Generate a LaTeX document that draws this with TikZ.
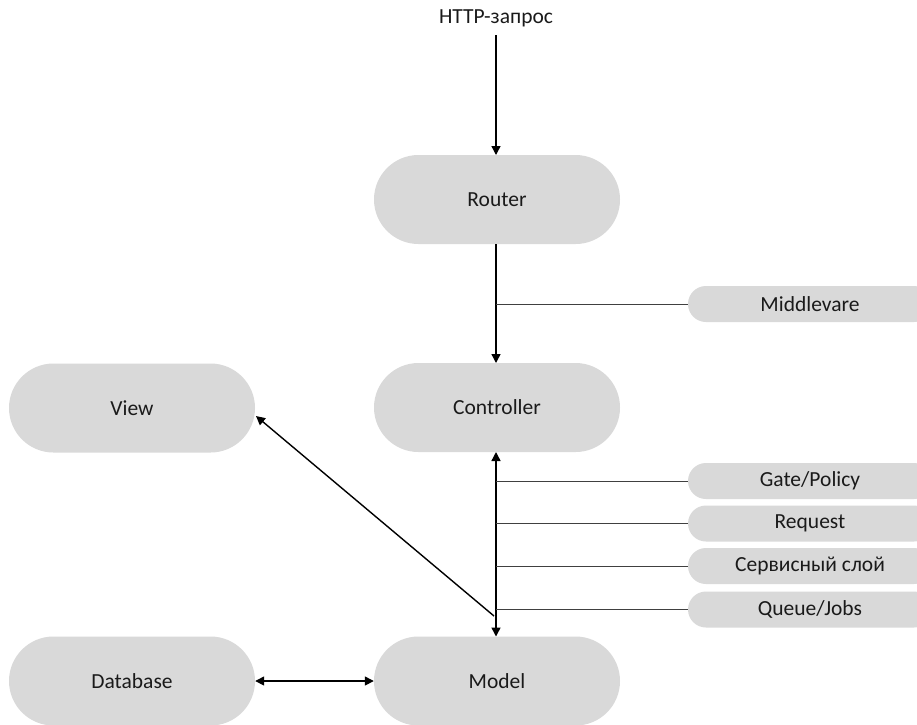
\documentclass[tikz,border=0pt]{standalone}
\usepackage{fontspec}
\setmainfont{Carlito}
\usetikzlibrary{arrows.meta}
\definecolor{pillgray}{HTML}{D9D9D9}
\definecolor{linegray}{HTML}{404040}
\definecolor{txt}{HTML}{1A1A1A}
\begin{document}
\begin{tikzpicture}[x=1pt,y=-1pt,
  pill/.style={fill=pillgray, rounded corners=44.5pt, minimum width=246pt, minimum height=89pt, inner sep=0pt, text=txt, font=\fontsize{21.5}{26}\selectfont},
  tag/.style={fill=pillgray, rounded corners=18pt, minimum width=244pt, minimum height=36pt, inner sep=0pt, text=txt, font=\fontsize{21.5}{26}\selectfont},
  arr/.style={line width=1.4pt, -{Triangle[length=9pt,width=9pt]}},
  darr/.style={line width=1.4pt, {Triangle[length=9pt,width=9pt]}-{Triangle[length=9pt,width=9pt]}},
  branch/.style={line width=1pt, draw=linegray},
  lbl/.style={font=\fontsize{21.5}{26}\selectfont, text=txt, inner sep=2pt}]
\clip (0,0) rectangle (917,724);
\fill[white] (0,0) rectangle (917,724);

\node[lbl] (http) at (496,18) {HTTP-запрос};
\node[pill] (router) at (497,199.5) {Router};
\node[pill] (ctrl) at (497,407.5) {Controller};
\node[pill] (view) at (132,408) {View};
\node[pill] (model) at (497,681) {Model};
\node[pill] (db) at (132,681) {Database};

\node[tag] (mid) at (810,304) {Middlevare};
\node[tag] (gate) at (810,481) {Gate/Policy};
\node[tag] (req) at (810,523.5) {Request};
\node[tag] (serv) at (810,566) {Сервисный слой};
\node[tag] (queue) at (810,609.5) {Queue/Jobs};

\coordinate (ht) at (496,35);
\coordinate (rt) at (496,155);
\coordinate (rb) at (496,244);
\coordinate (ct) at (496,363);
\coordinate (cb) at (496,452);
\coordinate (mt) at (496,636.5);
\coordinate (b0) at (496,304);
\coordinate (b1) at (496,481);
\coordinate (b2) at (496,523.5);
\coordinate (b3) at (496,566);
\coordinate (b4) at (496,609.5);
\coordinate (vs) at (494,616);
\coordinate (ve) at (256,416);

\draw[arr] (ht) -- (rt);
\draw[arr] (rb) -- (ct);
\draw[darr] (cb) -- (mt);
\draw[arr] (vs) -- (ve);
\draw[darr] (db.east) -- (model.west);

\draw[branch] (b0) -- (mid.west);
\draw[branch] (b1) -- (gate.west);
\draw[branch] (b2) -- (req.west);
\draw[branch] (b3) -- (serv.west);
\draw[branch] (b4) -- (queue.west);
\end{tikzpicture}
\end{document}
